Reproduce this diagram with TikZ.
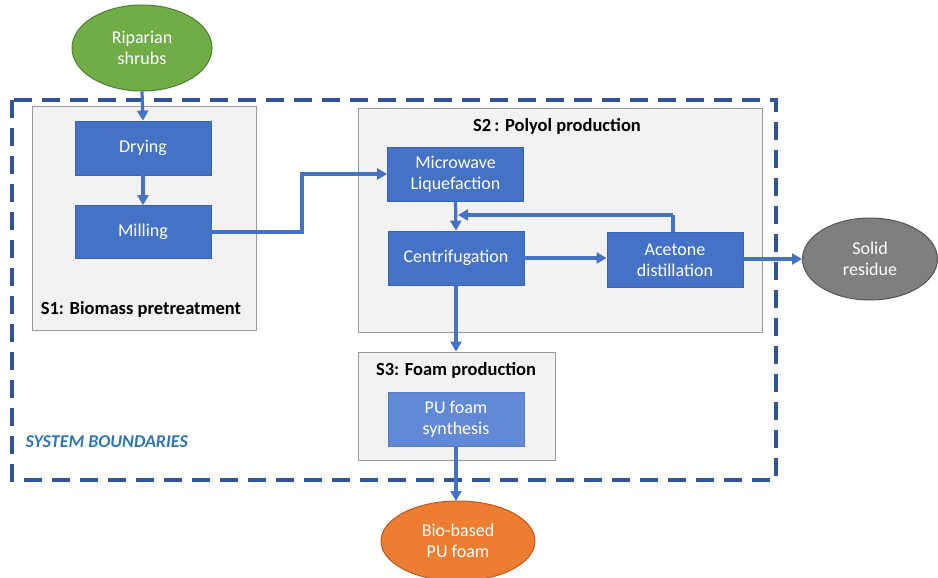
\documentclass[tikz,border=0pt]{standalone}
\usepackage{fontspec}
\setmainfont{Carlito}
\usetikzlibrary{shapes.geometric,arrows.meta,positioning}
\definecolor{boxblue}{HTML}{4472C4}
\definecolor{boxedge}{HTML}{3A64AE}
\definecolor{lightblue}{HTML}{6289D6}
\definecolor{dashblue}{HTML}{2F5597}
\definecolor{stagegray}{HTML}{F2F2F2}
\definecolor{stageedge}{HTML}{9A9A9A}
\definecolor{greenfill}{HTML}{70AD47}
\definecolor{greenedge}{HTML}{4E7F30}
\definecolor{orangefill}{HTML}{ED7D31}
\definecolor{orangeedge}{HTML}{B55A1C}
\definecolor{grayfill}{HTML}{7F7F7F}
\definecolor{grayedge}{HTML}{555555}
\definecolor{labelblue}{HTML}{2E75B6}
\tikzset{
  procbox/.style={rectangle, fill=boxblue, draw=boxedge, line width=0.8pt, text=white,
    minimum width=136pt, minimum height=54pt, align=center, font=\fontsize{18}{21}\selectfont, inner sep=2pt},
  stagebox/.style={rectangle, fill=stagegray, draw=stageedge, line width=0.9pt},
  flowend/.style={ellipse, line width=1pt, text=white, align=center, font=\fontsize{18}{21}\selectfont, inner sep=0pt},
  stagelabel/.style={font=\bfseries\fontsize{18.5}{21}\selectfont, text=black},
  flow/.style={draw=boxblue, line width=3.2pt, -{Triangle[length=10pt,width=11pt]}},
  plain/.style={draw=boxblue, line width=3.2pt}
}
\begin{document}
\begin{tikzpicture}[x=1pt,y=-1pt]
\useasboundingbox (0,0) rectangle (938,578);
% system boundary
\draw[dashblue, line width=4pt, dash pattern=on 18pt off 10pt] (12,100) rectangle (776,480);
\node[anchor=west, font=\bfseries\itshape\fontsize{18}{21}\selectfont, text=labelblue] (sysb) at (22,442) {SYSTEM BOUNDARIES};

% stage boxes
\node[stagebox, minimum width=224pt, minimum height=224pt] (s1) at (144,218) {};
\node[stagebox, minimum width=404pt, minimum height=224pt] (s2) at (560,220) {};
\node[stagebox, minimum width=197pt, minimum height=108pt] (s3) at (456.5,406) {};
\node[stagelabel] (s1l) at (141,309) {S1: Biomass pretreatment};
\node[stagelabel] (s2l) at (557,126) {S2\,: Polyol production};
\node[stagelabel] (s3l) at (456,370) {S3: Foam production};

% ends
\node[flowend, fill=greenfill, draw=greenedge, minimum width=140pt, minimum height=86pt] (rip) at (142,48) {Riparian\\shrubs};
\node[flowend, fill=grayfill, draw=grayedge, minimum width=135pt, minimum height=82pt] (solid) at (870,259) {Solid\\residue};
\node[flowend, fill=orangefill, draw=orangeedge, minimum width=154pt, minimum height=80pt] (bio) at (458,541) {Bio-based\\PU foam};

% process boxes
\node[procbox] (dry) at (143,148) {Drying};
\node[procbox, minimum height=53pt] (mill) at (143,232) {Milling};
\node[procbox] (micro) at (455.5,174) {Microwave\\Liquefaction};
\node[procbox] (cent) at (456,258) {Centrifugation};
\node[procbox, minimum height=55pt] (acet) at (675,260) {Acetone\\distillation};
\node[procbox, fill=lightblue, draw=lightblue!90!black] (pu) at (456,419.5) {PU foam\\synthesis};

% connectors
\draw[flow] (rip.south) -- (dry.north);
\draw[flow] (dry.south) -- (mill.north);
\coordinate (m1) at (302,232);
\coordinate (m2) at (302,174);
\draw[flow] (mill.east) -- (m1) -- (m2) -- (micro.west);
\draw[flow] (micro.south) -- (cent.north);
\coordinate (f1) at (673,215);
\coordinate (f2) at (458,215);
\draw[plain] (acet.north -| f1) -- (f1);
\draw[flow] (f1) -- (f2);
\draw[flow] (cent.east) -- (acet.west |- cent.east);
\draw[flow] (acet.east |- solid.west) -- (solid.west);
\draw[flow] (cent.south) -- (s3.north -| cent.south);
\coordinate (b1) at (456,501);
\draw[flow] (pu.south) -- (b1);
\end{tikzpicture}
\end{document}
